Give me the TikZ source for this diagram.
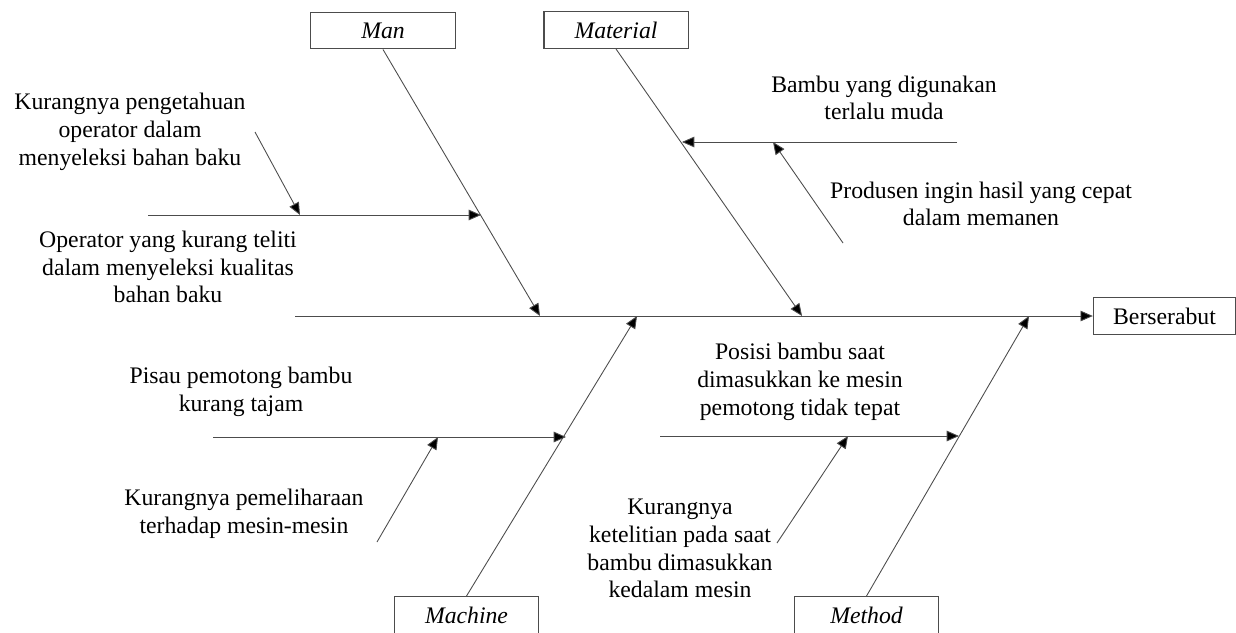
\documentclass[tikz,border=0pt]{standalone}
\usepackage{fontspec}
\setmainfont{Liberation Serif}
\usetikzlibrary{arrows.meta}
\tikzset{
  bone/.style={draw=black!70, line width=0.5pt},
  arr/.style={bone, -{Triangle[length=7pt,width=6pt,fill=black]}},
  catbox/.style={draw=black!70, line width=0.6pt, minimum width=82pt, minimum height=21pt, font=\fontsize{13.5}{15}\selectfont\itshape},
  cause/.style={align=center, font=\fontsize{13.5}{15.8}\selectfont}
}
\begin{document}
\begin{tikzpicture}[x=0.02cm, y=-0.02cm]
			%%%%% FRAME %%%%%
			\useasboundingbox (0, 0) rectangle (1236, 632);
			
			%%%%% HEAD AND SPINE %%%%%
			\node[draw=black!70, line width=0.6pt, minimum width=81pt, minimum height=21pt, font=\fontsize{13.5}{15}\selectfont] (effect) at (1164.5, 316) {Berserabut};
			\coordinate (tail) at (295, 316);
			\draw[arr] (tail) -- (effect.west);
			
			%%%%% CATEGORIES %%%%%
			\node[catbox] (man) at (383, 30.5) {Man};
			\node[catbox] (material) at (616, 30) {Material};
			\node[catbox] (machine) at (466.5, 615) {Machine};
			\node[catbox] (method) at (866.5, 615) {Method};
			
			\coordinate (jman) at (540, 316);
			\coordinate (jmat) at (802, 316);
			\coordinate (jmac) at (637, 316);
			\coordinate (jmet) at (1029, 316);
			
			\draw[arr] (man.south) -- (jman);
			\draw[arr] (material.south) -- (jmat);
			\draw[arr] (machine.north) -- (jmac);
			\draw[arr] (method.north) -- (jmet);
			
			%%%%% MAN %%%%%
			\node[cause] (man1) at (130, 132) {Kurangnya pengetahuan\\operator dalam\\menyeleksi bahan baku};
			\node[cause] (man2) at (168, 267) {Operator yang kurang teliti\\dalam menyeleksi kualitas\\bahan baku};
			\coordinate (man2s) at (148, 215);
			\coordinate (man2e) at (481, 215);
			\coordinate (man1s) at (255, 132);
			\coordinate (man1e) at (300, 215);
			\draw[arr] (man2s) -- (man2e);
			\draw[arr] (man1s) -- (man1e);
			
			%%%%% MATERIAL %%%%%
			\node[cause] (mat1) at (884, 98) {Bambu yang digunakan\\terlalu muda};
			\node[cause] (mat2) at (981, 204) {Produsen ingin hasil yang cepat\\dalam memanen};
			\coordinate (mat1s) at (957, 142);
			\coordinate (mat1e) at (682, 142);
			\coordinate (mat2s) at (843, 243);
			\coordinate (mat2e) at (773, 142);
			\draw[arr] (mat1s) -- (mat1e);
			\draw[arr] (mat2s) -- (mat2e);
			
			%%%%% MACHINE %%%%%
			\node[cause] (mac1) at (241, 392) {Pisau pemotong bambu\\kurang tajam};
			\node[cause] (mac2) at (244, 514) {Kurangnya pemeliharaan\\terhadap mesin-mesin};
			\coordinate (mac1s) at (213, 437);
			\coordinate (mac1e) at (566, 437);
			\coordinate (mac2s) at (377, 542);
			\coordinate (mac2e) at (438, 437);
			\draw[arr] (mac1s) -- (mac1e);
			\draw[arr] (mac2s) -- (mac2e);
			
			%%%%% METHOD %%%%%
			\node[cause] (met1) at (800, 382) {Posisi bambu saat\\dimasukkan ke mesin\\pemotong tidak tepat};
			\node[cause] (met2) at (680, 548.5) {Kurangnya\\ketelitian pada saat\\bambu dimasukkan\\kedalam mesin};
			\coordinate (met1s) at (660, 436);
			\coordinate (met1e) at (959, 436);
			\coordinate (met2s) at (777, 543);
			\coordinate (met2e) at (848, 436);
			\draw[arr] (met1s) -- (met1e);
			\draw[arr] (met2s) -- (met2e);
			
			%%%%% END %%%%%
\end{tikzpicture}
\end{document}
